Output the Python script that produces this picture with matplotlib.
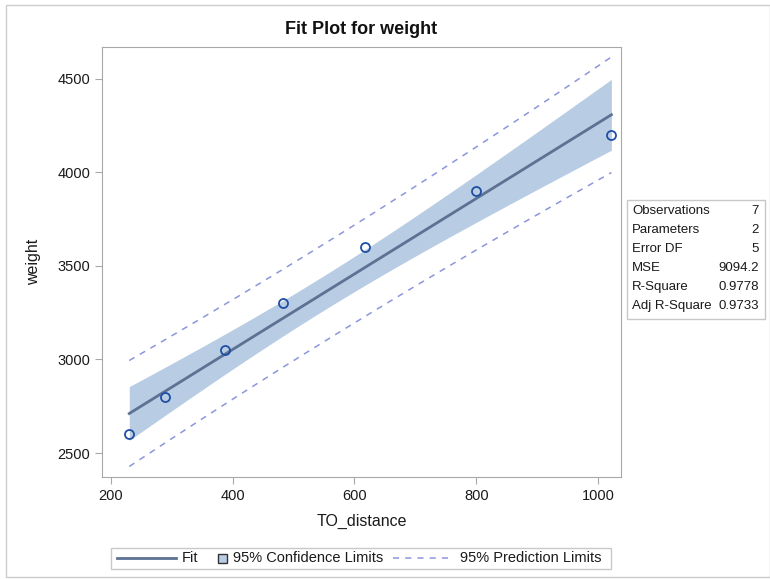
import numpy as np
import matplotlib
matplotlib.use("Agg")
import matplotlib.pyplot as plt
from matplotlib.patches import Rectangle
from matplotlib.lines import Line2D

plt.rcParams['font.family'] = ['Liberation Sans', 'DejaVu Sans']

# Data
to_distance = [230, 288, 388, 482, 617, 800, 1022]
weight = [2600, 2800, 3050, 3300, 3600, 3900, 4200]
x_ticks = [200, 400, 600, 800, 1000]
y_ticks = [2500, 3000, 3500, 4000, 4500]
stat_labels = ["Observations", "Parameters", "Error DF", "MSE", "R-Square", "Adj R-Square"]
stat_values = ["7", "2", "5", "9094.2", "0.9778", "0.9733"]
legend_labels = ["Fit", "95% Confidence Limits", "95% Prediction Limits"]
t_crit = 2.5706  # t(0.975, 5)

x = np.array(to_distance, float)
y = np.array(weight, float)
n = len(x)
b1, b0 = np.polyfit(x, y, 1)
resid = y - (b0 + b1 * x)
mse = np.sum(resid ** 2) / (n - 2)
xbar = x.mean()
sxx = np.sum((x - xbar) ** 2)
xs = np.linspace(x.min(), x.max(), 200)
yhat = b0 + b1 * xs
se_m = np.sqrt(mse * (1 / n + (xs - xbar) ** 2 / sxx))
se_p = np.sqrt(mse * (1 + 1 / n + (xs - xbar) ** 2 / sxx))

W, H = 770, 579
fig = plt.figure(figsize=(W / 100, H / 100), dpi=100)
ax = fig.add_axes([102 / W, 1 - 477 / H, (621 - 102) / W, (477 - 47) / H])

fill_c = '#b8cce4'
fit_c = '#5d7192'
pred_c = '#8c96dc'
mark_c = '#1f4ea3'
grid_c = '#a8a8a8'
txt_c = '#1a1a1a'

ax.fill_between(xs, yhat - t_crit * se_m, yhat + t_crit * se_m, color=fill_c, lw=0, zorder=1)
ax.plot(xs, yhat, color=fit_c, lw=2, zorder=3)
ax.plot(xs, yhat - t_crit * se_p, color=pred_c, lw=1.1, ls=(0, (4, 4)), zorder=2)
ax.plot(xs, yhat + t_crit * se_p, color=pred_c, lw=1.1, ls=(0, (4, 4)), zorder=2)
ax.plot(x, y, 'o', mfc='none', mec=mark_c, ms=6.5, mew=1.3, zorder=4)

ax.set_xlim(185.2, 1037.8)
ax.set_ylim(2371.7, 4671)
ax.set_xticks(x_ticks)
ax.set_yticks(y_ticks)
for s in ax.spines.values():
    s.set_color(grid_c)
ax.tick_params(colors=grid_c, labelcolor=txt_c, labelsize=10.5, length=5, direction='out')
ax.set_xlabel("TO_distance", fontsize=11.5, color=txt_c, labelpad=8)
ax.set_ylabel("weight", fontsize=11.5, color=txt_c, labelpad=12)
fig.text(0.5 * (102 + 621) / W, 1 - 30 / H, "Fit Plot for weight", ha='center', va='center',
         fontsize=13, fontweight='bold', color='#111111')

# outer frame
fig.patches.append(Rectangle((6 / W, 2 / H), (W - 6) / W, (H - 7) / H, transform=fig.transFigure,
                             fill=False, ec='#cccccc', lw=1))

# stats table
fig.patches.append(Rectangle((627 / W, 1 - 319 / H), (765 - 627) / W, (319 - 200) / H,
                             transform=fig.transFigure, fill=False, ec='#c8c8c8', lw=1))
for i, (lab, val) in enumerate(zip(stat_labels, stat_values)):
    yy = 1 - (211 + i * 19) / H
    fig.text(632 / W, yy, lab, ha='left', va='center', fontsize=9.5, color=txt_c)
    fig.text(759 / W, yy, val, ha='right', va='center', fontsize=9.5, color=txt_c)

# legend
fig.patches.append(Rectangle((111 / W, 1 - 569 / H), (611 - 111) / W, (569 - 548) / H,
                             transform=fig.transFigure, fill=False, ec='#c8c8c8', lw=1))
ly = 1 - 558 / H
fig.lines.append(Line2D([117 / W, 176 / W], [ly, ly], transform=fig.transFigure, color=fit_c, lw=2))
fig.text(182 / W, ly, legend_labels[0], ha='left', va='center', fontsize=10.5, color=txt_c)
fig.patches.append(Rectangle((218 / W, 1 - 562.5 / H), 9 / W, 9 / H, transform=fig.transFigure,
                             fc=fill_c, ec='#333333', lw=1))
fig.text(233 / W, ly, legend_labels[1], ha='left', va='center', fontsize=10.5, color=txt_c)
fig.lines.append(Line2D([393 / W, 448 / W], [ly, ly], transform=fig.transFigure, color=pred_c,
                        lw=1.1, ls=(0, (4, 4))))
fig.text(460 / W, ly, legend_labels[2], ha='left', va='center', fontsize=10.5, color=txt_c)

fig.savefig("out.png", dpi=100)
